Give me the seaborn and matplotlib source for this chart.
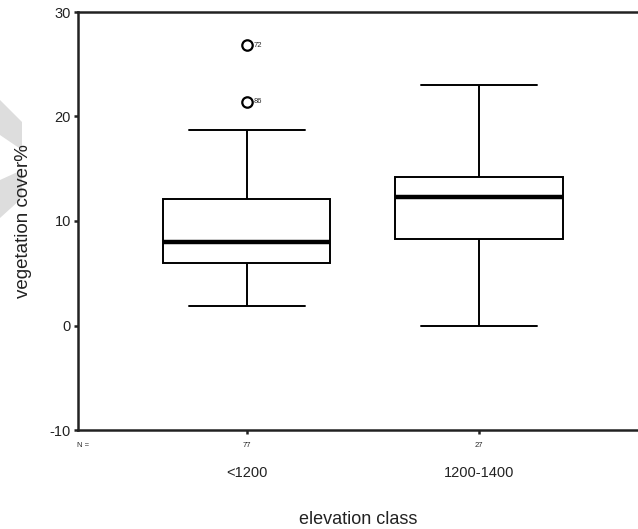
import matplotlib
matplotlib.use("Agg")
import matplotlib.pyplot as plt
import matplotlib.patches as mpatches
import seaborn as sns
import pandas as pd

# Box summary values per elevation class (min, Q1, median, Q3, upper whisker, outliers)
classes = ["<1200", "1200-1400"]
counts = [77, 27]
cover_low = [1.9, 1.9, 6.0, 6.0, 8.0, 8.0, 8.0, 12.1, 12.1, 12.1, 18.7, 21.4, 26.8]
cover_mid = [0.0, 8.3, 8.3, 12.3, 12.3, 14.2, 14.2, 23.0, 23.0]
outlier_values = [26.8, 21.4]
outlier_ids = ["72", "86"]

df = pd.DataFrame({
    "elevation class": [classes[0]] * len(cover_low) + [classes[1]] * len(cover_mid),
    "vegetation cover%": cover_low + cover_mid,
})

sns.set_theme(style="ticks")
plt.rcParams["font.family"] = ["Liberation Sans", "DejaVu Sans"]
plt.rcParams["axes.unicode_minus"] = False

W, H = 638, 529
fig = plt.figure(figsize=(W / 100, H / 100), dpi=100)
ax = fig.add_axes([78 / W, 1 - 430 / H, 1 - 78 / W, (430 - 12) / H])

sns.boxplot(
    data=df, x="elevation class", y="vegetation cover%", order=classes,
    width=0.72, color="white", linecolor="black", linewidth=1.4,
    whis=1.5, fliersize=7.5, capwidths=0.5,
    flierprops=dict(marker="o", markerfacecolor="white", markeredgecolor="black",
                    markeredgewidth=1.6),
    medianprops=dict(linewidth=3.2, color="black"),
    ax=ax,
)

ax.set_ylim(-10, 30)
ax.set_xlim(-0.728, 1.685)
ax.set_yticks([-10, 0, 10, 20, 30])
ax.set_xticks([0, 1])
ax.set_xticklabels(classes)

for side in ["left", "bottom", "top"]:
    ax.spines[side].set_linewidth(1.8)
    ax.spines[side].set_color("#222222")
ax.spines["right"].set_visible(False)

ax.tick_params(axis="y", length=3, width=1.8, labelsize=10.5, pad=2, colors="#222222")
ax.tick_params(axis="x", length=3, width=1.8, labelsize=10.5, pad=23, colors="#222222")
ax.tick_params(top=False)

ax.set_xlabel("elevation class", fontsize=13, labelpad=22, color="#222222")
ax.set_ylabel("vegetation cover%", fontsize=13.5, labelpad=13, color="#222222")

# Case numbers beside the outliers
for v, lab in zip(outlier_values, outlier_ids):
    ax.annotate(lab, xy=(0, v), xytext=(5, 0), textcoords="offset points",
                fontsize=5.5, va="center", ha="left")

# Group sizes under the axis
xt = ax.get_xaxis_transform()
ax.text(-0.705, -0.036, "N =", transform=xt, fontsize=5.5, ha="center", va="center")
for i, n in enumerate(counts):
    ax.text(i, -0.036, str(n), transform=xt, fontsize=5.5, ha="center", va="center")

# Faint grey mark at the left page edge
marks = [
    [(0, 100), (22, 122), (22, 150), (0, 135)],
    [(0, 180), (22, 170), (22, 198), (0, 218)],
]
for pts in marks:
    fig.patches.append(mpatches.Polygon(
        [(x / W, 1 - y / H) for x, y in pts], closed=True,
        transform=fig.transFigure, facecolor="#dddddd", edgecolor="none", zorder=-1))

fig.savefig("out.png", dpi=100)
